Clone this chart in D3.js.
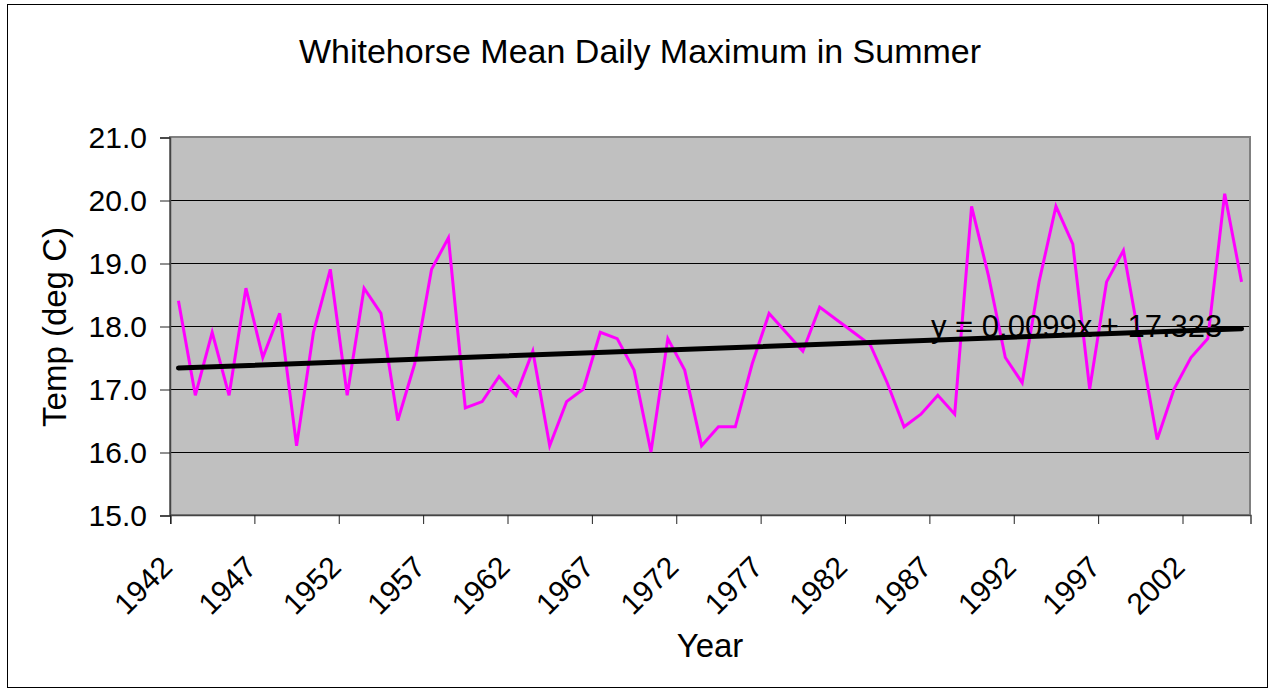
<!DOCTYPE html>
<html>
<head>
<meta charset="utf-8">
<script src="https://cdn.jsdelivr.net/npm/d3@7"></script>
<style>
    body { margin: 0; background: #fff; }
    svg { display: block; font-family: "Liberation Sans", Arial, sans-serif; }
</style>
</head>
<body>
<svg id="chart"></svg>
<script>
const width = 1274;
const height = 692;
const margin = {top: 137, right: 24, bottom: 177, left: 170};

// Years (category axis)
const years = d3.range(1942, 2006);

// Mean daily maximum in summer (deg C)
const temps = [
    18.4, 16.9, 17.9, 16.9, 18.6, 17.5, 18.2, 16.1, 17.9, 18.9,
    16.9, 18.6, 18.2, 16.5, 17.4, 18.9, 19.4, 16.7, 16.8, 17.2,
    16.9, 17.6, 16.1, 16.8, 17.0, 17.9, 17.8, 17.3, 16.0, 17.8,
    17.3, 16.1, 16.4, 16.4, 17.4, 18.2, 17.9, 17.6, 18.3, 18.1,
    17.9, 17.7, 17.1, 16.4, 16.6, 16.9, 16.6, 19.9, 18.8, 17.5,
    17.1, 18.7, 19.9, 19.3, 17.0, 18.7, 19.2, 17.7, 16.2, 17.0,
    17.5, 17.8, 20.1, 18.7
];

// Linear trendline as printed on the chart (x = 1..n)
const trendSlope = 0.0099;
const trendIntercept = 17.323;
const trendLabel = "y = 0.0099x + 17.323";

const yTicks = [15, 16, 17, 18, 19, 20, 21];
const xTickYears = years.filter((d, i) => i % 5 === 0);

const data = years.map((y, i) => ({year: y, temp: temps[i]}));

const svg = d3.select("#chart")
    .attr("width", width)
    .attr("height", height);

// Outer chart border
svg.append("rect")
    .attr("x", 7.5)
    .attr("y", 4.5)
    .attr("width", 1260)
    .attr("height", 683)
    .attr("fill", "#fff")
    .attr("stroke", "#000")
    .attr("stroke-width", 1);

const innerW = width - margin.left - margin.right;
const innerH = height - margin.top - margin.bottom;

const x = d3.scaleBand()
    .domain(years)
    .range([margin.left, width - margin.right])
    .padding(0);

const y = d3.scaleLinear()
    .domain([15, 21])
    .range([height - margin.bottom, margin.top]);

const bw = x.bandwidth();
const cx = d => x(d) + bw / 2;

// Plot area
svg.append("rect")
    .attr("x", margin.left)
    .attr("y", margin.top)
    .attr("width", innerW)
    .attr("height", innerH)
    .attr("fill", "#c0c0c0");

// Gridlines
svg.append("g")
    .selectAll("line")
    .data(yTicks.slice(1, -1))
    .enter()
    .append("line")
    .attr("x1", margin.left)
    .attr("x2", width - margin.right)
    .attr("y1", d => y(d) + 0.5)
    .attr("y2", d => y(d) + 0.5)
    .attr("stroke", "#000")
    .attr("stroke-width", 1);

// Plot area border
svg.append("rect")
    .attr("x", margin.left)
    .attr("y", margin.top)
    .attr("width", innerW)
    .attr("height", innerH)
    .attr("fill", "none")
    .attr("stroke", "#808080")
    .attr("stroke-width", 2);

// Y axis
const yAxis = svg.append("g")
    .attr("transform", `translate(${margin.left},0.5)`)
    .call(d3.axisLeft(y).tickValues(yTicks).tickFormat(d3.format(".1f")).tickSize(10).tickPadding(13));
yAxis.select(".domain").attr("stroke", "#444").attr("stroke-width", 1.5);
yAxis.selectAll(".tick line").attr("stroke", "#222");
yAxis.selectAll(".tick text")
    .attr("fill", "#000")
    .style("font-size", "30px");

// X axis (ticks between categories)
const xAxis = svg.append("g")
    .attr("transform", `translate(0.5,${height - margin.bottom})`)
    .call(d3.axisBottom(x).tickValues(xTickYears).tickSize(9).tickFormat(d => d));
xAxis.select(".domain").attr("stroke", "#444").attr("stroke-width", 1.5);
xAxis.selectAll(".tick line")
    .attr("x1", -bw / 2)
    .attr("x2", -bw / 2)
    .attr("stroke", "#222");
xAxis.selectAll(".tick text")
    .attr("fill", "#000")
    .style("font-size", "30px")
    .attr("text-anchor", "end")
    .attr("y", 0)
    .attr("dy", 0)
    .attr("transform", "translate(-5,54) rotate(-45)");

// Series line
const line = d3.line()
    .x(d => cx(d.year))
    .y(d => y(d.temp));

svg.append("path")
    .datum(data)
    .attr("d", line)
    .attr("fill", "none")
    .attr("stroke", "#ff00ff")
    .attr("stroke-width", 3)
    .attr("stroke-linejoin", "miter");

// Trendline
const trend = [years[0], years[years.length - 1]].map(yr => ({
    year: yr,
    temp: trendSlope * (years.indexOf(yr) + 1) + trendIntercept
}));

svg.append("path")
    .datum(trend)
    .attr("d", line)
    .attr("fill", "none")
    .attr("stroke", "#000")
    .attr("stroke-width", 5)
    .attr("stroke-linecap", "round");

svg.append("text")
    .attr("x", 931)
    .attr("y", 337)
    .style("font-size", "31px")
    .attr("fill", "#000")
    .text(trendLabel);

// Titles
svg.append("text")
    .attr("x", 640)
    .attr("y", 63)
    .attr("text-anchor", "middle")
    .style("font-size", "34px")
    .text("Whitehorse Mean Daily Maximum in Summer");

svg.append("text")
    .attr("x", 710)
    .attr("y", 657)
    .attr("text-anchor", "middle")
    .style("font-size", "33px")
    .text("Year");

svg.append("text")
    .attr("transform", "translate(66,327) rotate(-90)")
    .attr("text-anchor", "middle")
    .style("font-size", "33px")
    .text("Temp (deg C)");
</script>
</body>
</html>
